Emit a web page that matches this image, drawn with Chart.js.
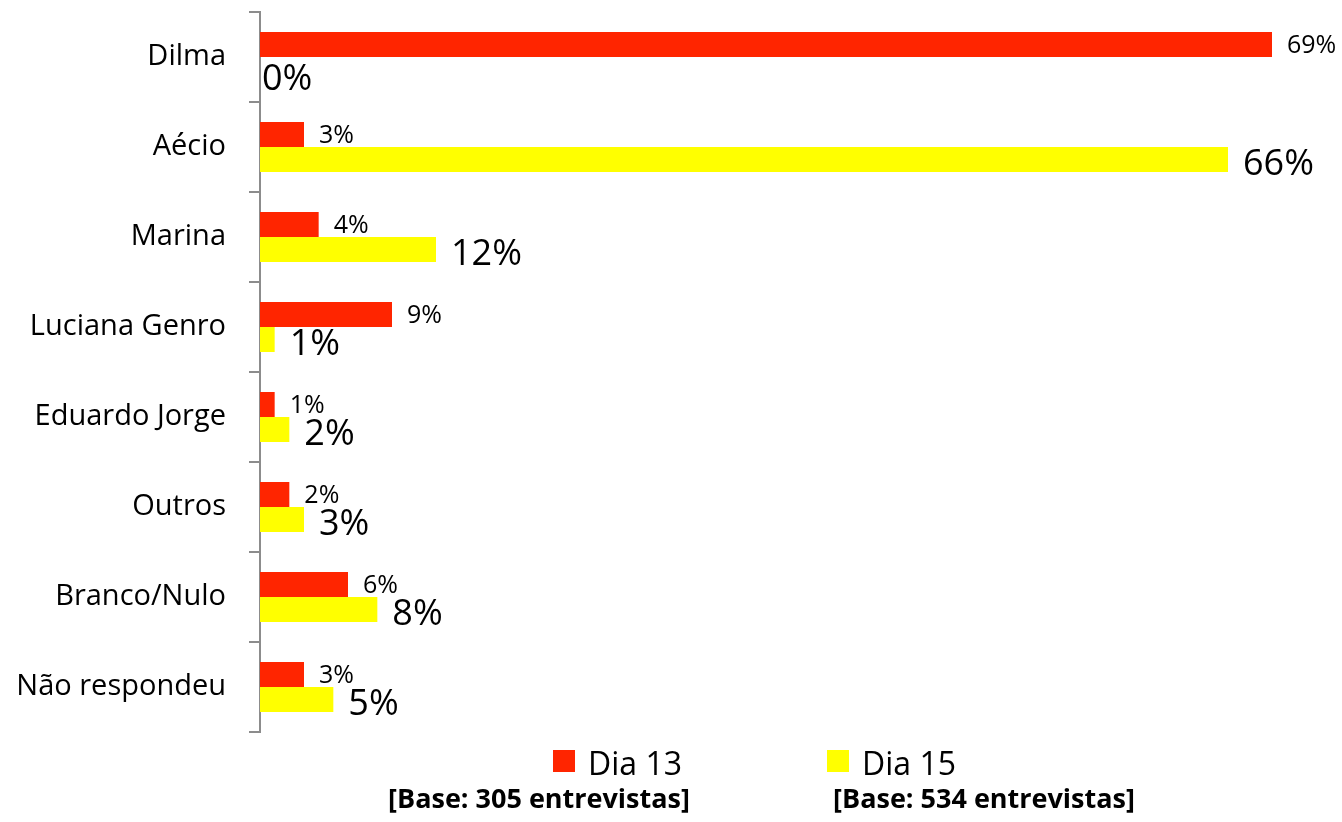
<!DOCTYPE html>
<html>
<head>
<meta charset="utf-8">
<title>Dia 13 x Dia 15</title>
<script src="https://cdn.jsdelivr.net/npm/chart.js@4.4.1/dist/chart.umd.min.js"></script>
<style>
    html, body { margin: 0; padding: 0; background: #fff; }
    #chart { display: block; }
</style>
</head>
<body>
<canvas id="chart" width="1342" height="822"></canvas>
<script>
// data
const categories = ['Dilma', 'Aécio', 'Marina', 'Luciana Genro', 'Eduardo Jorge', 'Outros', 'Branco/Nulo', 'Não respondeu'];
const dia13 = [69, 3, 4, 9, 1, 2, 6, 3];
const dia15 = [0, 66, 12, 1, 2, 3, 8, 5];
const seriesNames = ['Dia 13', 'Dia 15'];
const baseNotes = ['[Base: 305 entrevistas]', '[Base: 534 entrevistas]'];

const FONT = '"Open Sans", "Noto Sans", sans-serif';
const AXIS_GREY = '#8c8c8c';

// percentage labels at the end of each bar
const barLabels = {
    id: 'barLabels',
    afterDatasetsDraw(chart) {
        const ctx = chart.ctx;
        const styles = [
            { size: 25, dy: 1 },   // Dia 13: small labels
            { size: 36, dy: 5 }    // Dia 15: big labels
        ];
        ctx.save();
        ctx.fillStyle = '#000';
        ctx.textAlign = 'left';
        ctx.textBaseline = 'middle';
        chart.data.datasets.forEach((ds, di) => {
            const meta = chart.getDatasetMeta(di);
            ctx.font = styles[di].size + 'px ' + FONT;
            meta.data.forEach((bar, i) => {
                const v = ds.data[i];
                // zero-length bar: label sits on the axis, a bit lower
                const x = v === 0 ? bar.x + 2 : bar.x + 15;
                const y = v === 0 ? bar.y + 10 : bar.y + styles[di].dy;
                ctx.fillText(v + '%', x, y);
            });
        });
        ctx.restore();
    }
};

// legend plus the base notes under it
const bottomLegend = {
    id: 'bottomLegend',
    afterDraw(chart) {
        const ctx = chart.ctx;
        const boxes = [553, 827];
        const notes = [539, 984];
        ctx.save();
        chart.data.datasets.forEach((ds, i) => {
            ctx.fillStyle = ds.backgroundColor;
            ctx.fillRect(boxes[i], 750, 22, 22);
            ctx.fillStyle = '#000';
            ctx.font = '32px ' + FONT;
            ctx.textAlign = 'left';
            ctx.textBaseline = 'alphabetic';
            ctx.fillText(ds.label, boxes[i] + 35, 775);
            ctx.font = 'bold 27px ' + FONT;
            ctx.textAlign = 'center';
            ctx.fillText(baseNotes[i], notes[i], 808);
        });
        ctx.restore();
    }
};

const ctx = document.getElementById('chart');
new Chart(ctx, {
    type: 'bar',
    data: {
        labels: categories,
        datasets: [
            { label: seriesNames[0], data: dia13, backgroundColor: '#ff2500' },
            { label: seriesNames[1], data: dia15, backgroundColor: '#ffff00' }
        ]
    },
    options: {
        indexAxis: 'y',
        responsive: false,
        animation: false,
        categoryPercentage: 0.556,
        barPercentage: 1,
        layout: { padding: { top: 12, bottom: 90, right: 70, left: 0 } },
        plugins: {
            legend: { display: false },
            tooltip: { enabled: false }
        },
        scales: {
            x: {
                display: false,
                min: 0,
                max: 69
            },
            y: {
                afterFit: function (scale) {
                    scale.width = 260;
                    scale.paddingTop = 0;
                    scale.paddingBottom = 0;
                },
                border: { display: true, color: AXIS_GREY, width: 2 },
                grid: {
                    offset: true,
                    drawOnChartArea: false,
                    drawTicks: true,
                    tickLength: 11,
                    color: AXIS_GREY,
                    lineWidth: 2
                },
                ticks: {
                    padding: 23,
                    color: '#000',
                    font: { size: 29, family: FONT }
                }
            }
        }
    },
    plugins: [barLabels, bottomLegend]
});
</script>
</body>
</html>
